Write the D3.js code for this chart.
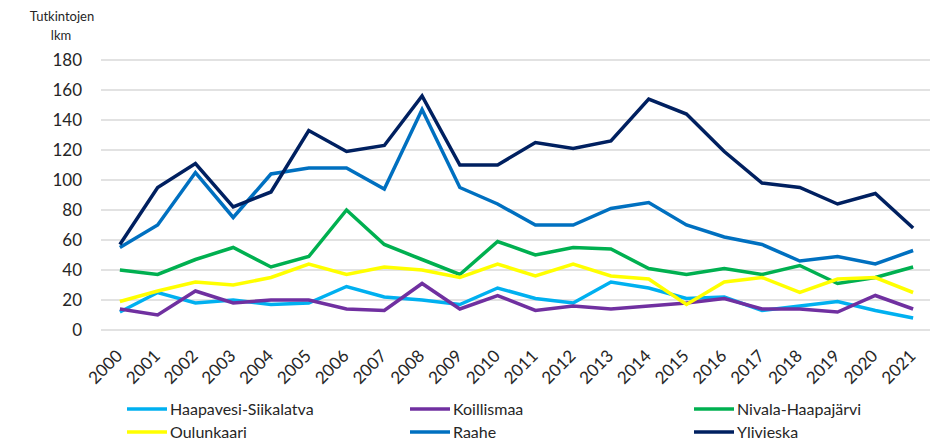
<!DOCTYPE html>
<html>
<head>
<meta charset="utf-8">
<script src="https://cdn.jsdelivr.net/npm/d3@7"></script>
<style>
  body { margin: 0; background: #fff; }
  svg { font-family: Lato, "Open Sans", sans-serif; }
</style>
</head>
<body>
<svg></svg>
<script>
// years on the category axis
const years = ['2000','2001','2002','2003','2004','2005','2006','2007','2008','2009','2010',
    '2011','2012','2013','2014','2015','2016','2017','2018','2019','2020','2021'];

// series values
const haapavesi = [12, 25, 18, 20, 17, 18, 29, 22, 20, 17, 28, 21, 18, 32, 28, 21, 22, 13, 16, 19, 13, 8];
const koillismaa = [14, 10, 26, 18, 20, 20, 14, 13, 31, 14, 23, 13, 16, 14, 16, 18, 21, 14, 14, 12, 23, 14];
const nivala = [40, 37, 47, 55, 42, 49, 80, 57, 47, 37, 59, 50, 55, 54, 41, 37, 41, 37, 43, 31, 35, 42];
const oulunkaari = [19, 26, 32, 30, 35, 44, 37, 42, 40, 35, 44, 36, 44, 36, 34, 17, 32, 35, 25, 34, 35, 25];
const raahe = [55, 70, 105, 75, 104, 108, 108, 94, 147, 95, 84, 70, 70, 81, 85, 70, 62, 57, 46, 49, 44, 53];
const ylivieska = [57, 95, 111, 82, 92, 133, 119, 123, 156, 110, 110, 125, 121, 126, 154, 144, 119, 98, 95, 84, 91, 68];

const seriesNames = ['Haapavesi-Siikalatva', 'Koillismaa', 'Nivala-Haapajärvi', 'Oulunkaari', 'Raahe', 'Ylivieska'];
const seriesValues = [haapavesi, koillismaa, nivala, oulunkaari, raahe, ylivieska];
const seriesColors = ['#00B0F0', '#7030A0', '#00B050', '#FFFF00', '#0070C0', '#002060'];

const yTicks = [0, 20, 40, 60, 80, 100, 120, 140, 160, 180];

const size = {w: 930, h: 442};
const plot = {l: 101, r: 932, t: 60, b: 330};

const svg = d3.select('svg')
    .attr('width', size.w)
    .attr('height', size.h);

const x = d3.scalePoint()
    .domain(years)
    .range([plot.l, plot.r])
    .padding(0.5);

const y = d3.scaleLinear()
    .domain([0, 180])
    .range([plot.b, plot.t]);

// horizontal gridlines
svg.append('g')
    .selectAll('line')
    .data(yTicks)
    .join('line')
    .attr('x1', plot.l)
    .attr('x2', plot.r)
    .attr('y1', d => y(d))
    .attr('y2', d => y(d))
    .attr('stroke', '#D9D9D9')
    .attr('stroke-width', 1.5);

// y axis labels
const yAxis = svg.append('g')
    .attr('transform', 'translate(' + (plot.l - 19) + ',0)')
    .call(d3.axisLeft(y).tickValues(yTicks).tickSize(0).tickPadding(0));
yAxis.select('.domain').remove();
yAxis.selectAll('text')
    .attr('font-size', 17)
    .attr('font-family', 'Lato, sans-serif')
    .attr('fill', '#262626');

// x axis labels, rotated
const xAxis = svg.append('g')
    .attr('transform', 'translate(0,' + plot.b + ')')
    .call(d3.axisBottom(x).tickSize(0).tickPadding(0));
xAxis.select('.domain').remove();
xAxis.selectAll('text')
    .attr('font-size', 17)
    .attr('font-family', 'Lato, sans-serif')
    .attr('fill', '#262626')
    .attr('text-anchor', 'end')
    .attr('dy', 0)
    .attr('transform', 'translate(3,27) rotate(-45)');

// axis title
svg.append('text')
    .attr('x', 62).attr('y', 21)
    .attr('text-anchor', 'middle')
    .attr('font-size', 13)
    .attr('fill', '#262626')
    .text('Tutkintojen');
svg.append('text')
    .attr('x', 61).attr('y', 40)
    .attr('text-anchor', 'middle')
    .attr('font-size', 13)
    .attr('fill', '#262626')
    .text('lkm');

// the lines
const line = d3.line()
    .x((d, i) => x(years[i]))
    .y(d => y(d));

svg.append('g')
    .selectAll('path')
    .data(seriesValues)
    .join('path')
    .attr('d', d => line(d))
    .attr('fill', 'none')
    .attr('stroke', (d, i) => seriesColors[i])
    .attr('stroke-width', 3.5)
    .attr('stroke-linejoin', 'miter');

// legend, 3 columns x 2 rows
const legendCols = [127, 410, 694];
const legendRows = [409, 432];

const legend = svg.append('g')
    .selectAll('g')
    .data(seriesNames)
    .join('g')
    .attr('transform', (d, i) => 'translate(' + legendCols[i % 3] + ',' + legendRows[Math.floor(i / 3)] + ')');

legend.append('line')
    .attr('x1', 0).attr('x2', 40)
    .attr('stroke', (d, i) => seriesColors[i])
    .attr('stroke-width', 3.5);

legend.append('text')
    .attr('x', 43)
    .attr('dy', '0.35em')
    .attr('font-size', 16)
    .attr('fill', '#262626')
    .text(d => d);
</script>
</body>
</html>
